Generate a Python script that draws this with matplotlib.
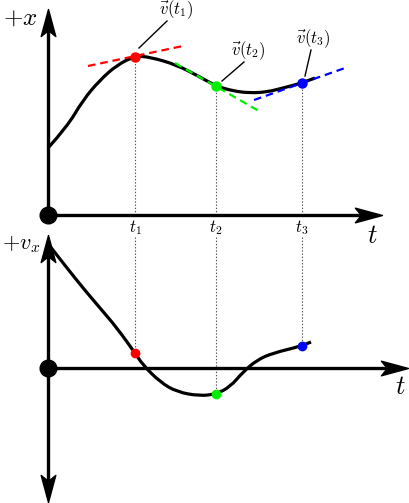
import numpy as np
import matplotlib.pyplot as plt
from matplotlib.path import Path
from matplotlib.patches import PathPatch

plt.rcParams['mathtext.fontset'] = 'cm'
plt.rcParams['lines.scale_dashes'] = False

# position curve x(t), units ~ 10 px
t_pos = [0.0, 1.9, 3.5, 5.2, 6.9, 8.7, 10.2, 12.9, 15.2, 16.8, 18.5, 20.2, 21.9, 23.5, 25.4, 26.7]
x_pos = [6.7, 8.8, 11.5, 13.5, 15.0, 15.9, 15.8, 15.0, 13.8, 12.9, 12.4, 12.2, 12.3, 12.7, 13.2, 13.7]

# velocity curve v_x(t)
t_vel = [0.1, 1.9, 3.5, 5.2, 6.9, 8.7, 9.5, 11.2, 12.9, 15.2, 16.8, 18.2, 19.5, 20.9, 22.5, 25.4, 26.3]
v_vel = [12.3, 10.0, 8.0, 6.0, 4.0, 1.5, 0.3, -1.4, -2.4, -2.8, -2.6, -1.9, -0.4, 0.8, 1.5, 2.2, 2.6]

# marked instants
t_marks = [8.7, 16.8, 25.4]
x_marks = [15.8, 12.9, 13.2]
v_marks = [1.5, -2.6, 2.2]
mark_colors = ['#ff0000', '#00ee00', '#0000ff']
tick_labels = [r'$t_1$', r'$t_2$', r'$t_3$']
vec_labels = [r'$\vec{v}(t_1)$', r'$\vec{v}(t_2)$', r'$\vec{v}(t_3)$']

# tangent segments (t0, x0, t1, x1)
tangents = [(4.0, 14.9, 13.5, 16.9),
            (12.7, 15.2, 21.1, 10.4),
            (20.6, 11.5, 29.7, 14.7)]
# label positions and leader lines
vec_text = [(12.8, 20.5), (20.0, 16.4), (26.5, 17.6)]
leaders = [(11.9, 19.4, 9.1, 16.7),
           (19.6, 15.3, 17.4, 13.4),
           (26.3, 16.5, 25.7, 13.9)]

W, H = 410, 503
fig = plt.figure(figsize=(W / 100, H / 100), dpi=100)


def panel(top_px, bot_px, ox, oy):
    ax = fig.add_axes([0, 1 - bot_px / H, 1, (bot_px - top_px) / H])
    ax.set_xlim(-ox / 10, (W - ox) / 10)
    ax.set_ylim((oy - bot_px) / 10, (oy - top_px) / 10)
    ax.axis('off')
    ax.patch.set_alpha(0)
    return ax


def stealth(angle):
    v = np.array([[0, 0], [-1, 0.27], [-0.78, 0], [-1, -0.27], [0, 0]])
    c, s = np.cos(np.radians(angle)), np.sin(np.radians(angle))
    v = v @ np.array([[c, s], [-s, c]])
    return Path(v, [Path.MOVETO, Path.LINETO, Path.LINETO, Path.LINETO, Path.CLOSEPOLY])


def smooth_curve(ax, ts, ys):
    # quadratic bezier through midpoints of the read points
    p = np.column_stack([ts, ys])
    verts, codes = [p[0]], [Path.MOVETO]
    for i in range(1, len(p) - 1):
        end = p[-1] if i == len(p) - 2 else (p[i] + p[i + 1]) / 2
        verts += [p[i], end]
        codes += [Path.CURVE3, Path.CURVE3]
    ax.add_patch(PathPatch(Path(verts, codes), fill=False, ec='k', lw=2.3, zorder=4))


def arrow_axis(ax, x_end, y_top, y_bot=None):
    ax.plot([0, x_end - 2], [0, 0], color='k', lw=2.4, solid_capstyle='butt', zorder=3)
    ax.plot(x_end, 0, marker=stealth(0), ms=39, color='k', zorder=4)
    y0 = 0 if y_bot is None else y_bot + 2
    ax.plot([0, 0], [y0, y_top - 2], color='k', lw=2.4, solid_capstyle='butt', zorder=3)
    ax.plot(0, y_top, marker=stealth(90), ms=39, color='k', zorder=4)
    if y_bot is not None:
        ax.plot(0, y_bot, marker=stealth(-90), ms=39, color='k', zorder=4)
    ax.plot(0, 0, 'o', ms=12, color='k', zorder=6)


# ---- top: position ----
ax1 = panel(0, 245, 48, 215)
arrow_axis(ax1, 33.4, 20.6)
smooth_curve(ax1, t_pos, x_pos)
for (a, b, c, d), col in zip(tangents, mark_colors):
    ax1.plot([a, c], [b, d], color=col, lw=1.6, dashes=(5.5, 3.5), zorder=5)
for t, x, col, tl in zip(t_marks, x_marks, mark_colors, tick_labels):
    ax1.plot([t, t], [0, x], color='#555555', lw=0.8, ls=(0, (1, 1.3)), zorder=1)
    ax1.plot(t, x, 'o', ms=6.5, color=col, zorder=7)
    ax1.text(t, -1.3, tl, fontsize=12, ha='center', va='center')
for (tx, ty), s, (a, b, c, d) in zip(vec_text, vec_labels, leaders):
    ax1.text(tx, ty, s, fontsize=12, ha='center', va='center')
    ax1.plot([a, c], [b, d], color='k', lw=1.0)
ax1.text(-4.5, 19.7, r'$+x$', fontsize=18, ha='left', va='center')
ax1.text(32.4, -2.1, r'$t$', fontsize=19, ha='center', va='center')

# ---- bottom: velocity ----
ax2 = panel(225, 503, 48, 368)
arrow_axis(ax2, 36.0, 13.3, -13.4)
smooth_curve(ax2, t_vel, v_vel)
for t, v, col in zip(t_marks, v_marks, mark_colors):
    ax2.plot([t, t], [13.1, v], color='#555555', lw=0.8, ls=(0, (1, 1.3)), zorder=1)
    ax2.plot(t, v, 'o', ms=6, color=col, zorder=7)
ax2.text(-4.6, 12.4, r'$+v_x$', fontsize=16, ha='left', va='center')
ax2.text(35.2, -1.9, r'$t$', fontsize=19, ha='center', va='center')

fig.savefig('out.png', dpi=100)
